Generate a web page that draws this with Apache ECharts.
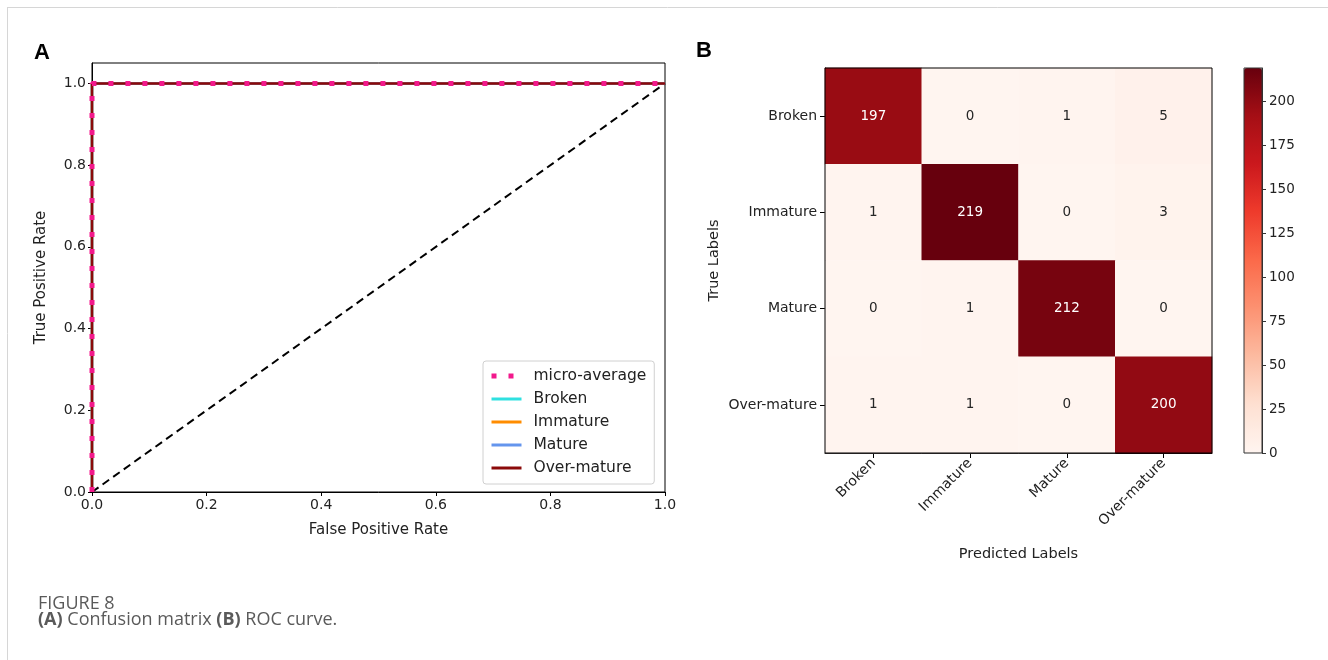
<!DOCTYPE html>
<html>
<head>
<meta charset="utf-8">
<script src="https://cdn.jsdelivr.net/npm/echarts@6/dist/echarts.min.js"></script>
<style>
html,body{margin:0;padding:0;background:#fff;}
#chart{width:1328px;height:660px;}
</style>
</head>
<body>
<div id="chart"></div>
<script>
// ---------- Data ----------
// Panel A: ROC curves (FPR, TPR points)
const rocFpr = [0, 0, 1];
const rocMicroTpr = [0, 1, 1];
const rocBrokenTpr = [0, 1, 1];
const rocImmatureTpr = [0, 1, 1];
const rocMatureTpr = [0, 1, 1];
const rocOverTpr = [0, 1, 1];
const chanceFpr = [0, 1];
const chanceTpr = [0, 1];
const rocXTicks = [0, 0.2, 0.4, 0.6, 0.8, 1.0];
const rocYTicks = [0, 0.2, 0.4, 0.6, 0.8, 1.0];
const legendNames = ['micro-average', 'Broken', 'Immature', 'Mature', 'Over-mature'];

// Panel B: confusion matrix
const classLabels = ['Broken', 'Immature', 'Mature', 'Over-mature'];
const rowBroken = [197, 0, 1, 5];
const rowImmature = [1, 219, 0, 3];
const rowMature = [0, 1, 212, 0];
const rowOverMature = [1, 1, 0, 200];
const colorbarTicks = [0, 25, 50, 75, 100, 125, 150, 175, 200];
const colorMin = 0;
const colorMax = 219;

// ---------- Build ----------
const pts = (xs, ys) => xs.map((x, i) => [x, ys[i]]);
const matrix = [rowBroken, rowImmature, rowMature, rowOverMature];
const heatData = [];
matrix.forEach((row, r) => row.forEach((v, c) => {
  heatData.push({
    value: [c, r, v],
    label: { color: v > colorMax / 2 ? '#ffffff' : '#262626' }
  });
}));

const reds = ['#fff5f0', '#fee0d2', '#fcbba1', '#fc9272', '#fb6a4a', '#ef3b2c', '#cb181d', '#a50f15', '#67000d'];
const FONT = 'DejaVu Sans';
const txt = '#222';
const microColor = '#f2198c';

const chart = echarts.init(document.getElementById('chart'), null, { renderer: 'canvas' });

const lineSeries = (name, ys, color, z) => ({
  name, type: 'line', xAxisIndex: 0, yAxisIndex: 0,
  data: pts(rocFpr, ys), symbol: 'none', z,
  lineStyle: { color, width: 2.5 }, itemStyle: { color },
  animation: false
});

const legendData = legendNames.map((n, i) => i === 0
  ? { name: n, lineStyle: { width: 5, type: [5, 12], cap: 'butt', color: microColor } }
  : { name: n, lineStyle: { width: 3 } });

const option = {
  animation: false,
  backgroundColor: '#ffffff',
  grid: [
    { left: 92, right: 663, top: 63, bottom: 168, show: true, borderColor: '#000', borderWidth: 1, backgroundColor: 'transparent' },
    { left: 825, right: 116, top: 68, bottom: 207, show: true, borderColor: '#000', borderWidth: 1, backgroundColor: 'transparent', z: 5 },
    { left: 1244, width: 18, top: 68, bottom: 207, show: true, borderColor: '#333', borderWidth: 1, backgroundColor: 'transparent', z: 10 }
  ],
  xAxis: [
    {
      type: 'value', gridIndex: 0, min: 0, max: 1, interval: 0.2,
      name: 'False Positive Rate', nameLocation: 'middle', nameGap: 31,
      nameTextStyle: { fontFamily: FONT, fontSize: 15, color: txt },
      axisLine: { show: true, lineStyle: { color: '#000', width: 1 } },
      axisTick: { show: true, length: 4, lineStyle: { color: '#000' }, customValues: rocXTicks },
      axisLabel: { fontFamily: FONT, fontSize: 14, color: txt, margin: 6, customValues: rocXTicks, formatter: v => v.toFixed(1) },
      splitLine: { show: false }
    },
    {
      type: 'category', gridIndex: 1, data: classLabels,
      name: 'Predicted Labels', nameLocation: 'middle', nameGap: 94,
      nameTextStyle: { fontFamily: FONT, fontSize: 14.5, color: txt },
      axisLine: { show: true, lineStyle: { color: '#000' } },
      axisTick: { show: true, alignWithLabel: true, length: 5, lineStyle: { color: '#000' } },
      axisLabel: { fontFamily: FONT, fontSize: 14, color: txt, rotate: 45, margin: 8, interval: 0 },
      splitLine: { show: false }, splitArea: { show: false }
    },
    {
      type: 'category', gridIndex: 2, data: [''], show: false
    }
  ],
  yAxis: [
    {
      type: 'value', gridIndex: 0, min: 0, max: 1.05, interval: 0.2,
      name: 'True Positive Rate', nameLocation: 'middle', nameGap: 43, nameRotate: 90,
      nameTextStyle: { fontFamily: FONT, fontSize: 15, color: txt },
      axisLine: { show: true, lineStyle: { color: '#000', width: 1 } },
      axisTick: { show: true, length: 4, lineStyle: { color: '#000' }, customValues: rocYTicks },
      axisLabel: { fontFamily: FONT, fontSize: 14, color: txt, margin: 6, customValues: rocYTicks, formatter: v => v.toFixed(1) },
      splitLine: { show: false }
    },
    {
      type: 'category', gridIndex: 1, data: classLabels, inverse: true,
      name: 'True Labels', nameLocation: 'middle', nameGap: 103, nameRotate: 90,
      nameTextStyle: { fontFamily: FONT, fontSize: 14.5, color: txt },
      axisLine: { show: true, lineStyle: { color: '#000' } },
      axisTick: { show: true, alignWithLabel: true, length: 5, lineStyle: { color: '#000' } },
      axisLabel: { fontFamily: FONT, fontSize: 14, color: txt, margin: 8, interval: 0 },
      splitLine: { show: false }, splitArea: { show: false }
    },
    {
      type: 'value', gridIndex: 2, min: colorMin, max: colorMax, position: 'right',
      axisLine: { show: true, lineStyle: { color: '#333' } },
      axisTick: { show: true, length: 4, lineStyle: { color: '#333' }, customValues: colorbarTicks },
      axisLabel: { fontFamily: FONT, fontSize: 13.5, color: txt, margin: 7, customValues: colorbarTicks },
      splitLine: { show: false }
    }
  ],
  visualMap: {
    type: 'continuous', seriesIndex: 6, min: colorMin, max: colorMax,
    orient: 'vertical', left: 1244, top: 68, itemWidth: 18, itemHeight: 385,
    padding: 0, calculable: false, hoverLink: false, realtime: false,
    text: null, showLabel: false,
    inRange: { color: reds },
    textStyle: { color: 'transparent' }
  },
  legend: {
    data: legendData,
    orient: 'vertical', left: 483, top: 361,
    padding: [7, 8, 8, 6],
    itemWidth: 30, itemHeight: 14, itemGap: 7,
    itemStyle: { opacity: 0 },
    backgroundColor: '#fff', borderColor: '#d0d0d0', borderWidth: 1, borderRadius: 3,
    textStyle: { fontFamily: FONT, fontSize: 15.5, color: txt, padding: [0, 0, 0, 7] },
    selectedMode: false
  },
  series: [
    lineSeries('Broken', rocBrokenTpr, '#2fe0e0', 3),
    lineSeries('Immature', rocImmatureTpr, '#ff8c00', 4),
    lineSeries('Mature', rocMatureTpr, '#6495ed', 5),
    lineSeries('Over-mature', rocOverTpr, '#8b0a0a', 6),
    {
      name: 'micro-average', type: 'line', xAxisIndex: 0, yAxisIndex: 0,
      data: pts(rocFpr, rocMicroTpr), symbol: 'none', z: 7,
      lineStyle: { color: microColor, width: 5, type: [5, 12], cap: 'butt' },
      itemStyle: { color: microColor }
    },
    {
      name: 'chance', type: 'line', xAxisIndex: 0, yAxisIndex: 0,
      data: pts(chanceFpr, chanceTpr), symbol: 'none', z: 2,
      lineStyle: { color: '#000', width: 2, type: [8, 5] }
    },
    {
      name: 'confusion', type: 'heatmap', xAxisIndex: 1, yAxisIndex: 1,
      data: heatData,
      label: { show: true, fontFamily: FONT, fontSize: 13.5 },
      itemStyle: { borderWidth: 0 },
      emphasis: { disabled: true }
    }
  ],
  graphic: [
    { type: 'line', shape: { x1: 7, y1: 7.5, x2: 1328, y2: 7.5 }, style: { stroke: '#d6d6d6', lineWidth: 1 }, silent: true },
    { type: 'line', shape: { x1: 7.5, y1: 7, x2: 7.5, y2: 660 }, style: { stroke: '#d6d6d6', lineWidth: 1 }, silent: true },
    { type: 'text', left: 34, top: 42, style: { text: 'A', font: 'bold 22px "Liberation Sans", Arial', fill: '#000' } },
    { type: 'text', left: 696, top: 40, style: { text: 'B', font: 'bold 22px "Liberation Sans", Arial', fill: '#000' } },
    { type: 'text', left: 38, top: 595, style: { text: 'FIGURE 8', font: '500 18px "Open Sans"', fill: '#5a5a5a' } },
    {
      type: 'text', left: 38, top: 611,
      style: {
        text: '{b|(A)} Confusion matrix {b|(B)} ROC curve.',
        font: '18px "Open Sans"', fill: '#5a5a5a',
        rich: { b: { fontWeight: 'bold', fontFamily: 'Open Sans', fontSize: 18, fill: '#5a5a5a' } }
      }
    }
  ]
};
chart.setOption(option);
</script>
</body>
</html>
